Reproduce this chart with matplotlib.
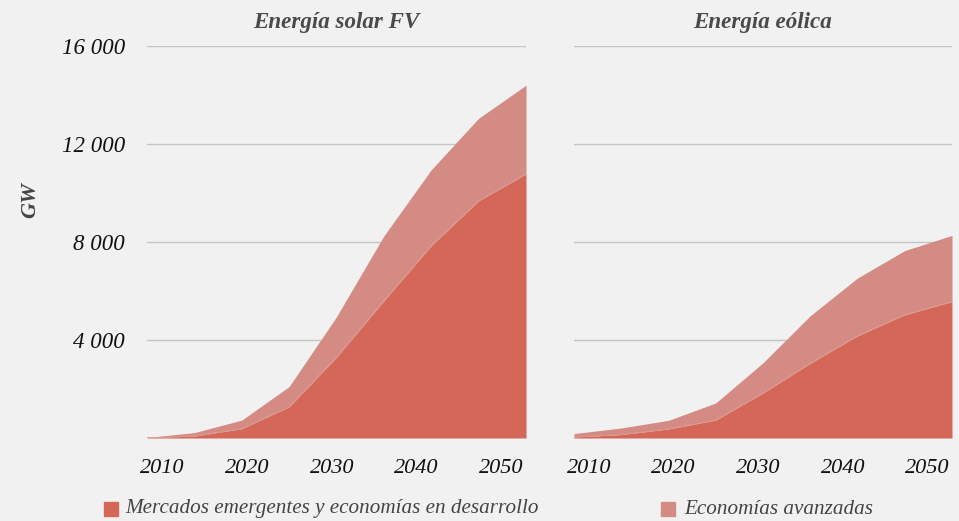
import matplotlib.pyplot as plt
from matplotlib.patches import Rectangle
import numpy as np

# datos (GW)
years = [2010, 2015, 2020, 2025, 2030, 2035, 2040, 2045, 2050]

solar_emergentes = [10, 80, 380, 1270, 3300, 5600, 7850, 9680, 10780]
solar_total = [20, 220, 730, 2100, 4950, 8250, 10950, 13050, 14400]

eolica_emergentes = [40, 140, 370, 730, 1840, 3050, 4170, 5030, 5570]
eolica_total = [180, 410, 720, 1430, 3070, 4990, 6530, 7650, 8270]

titles = ["Energía solar FV", "Energía eólica"]
year_labels = ["2010", "2020", "2030", "2040", "2050"]
y_ticks = [4000, 8000, 12000, 16000]
y_labels = ["4 000", "8 000", "12 000", "16 000"]
legend_labels = ["Mercados emergentes y economías en desarrollo", "Economías avanzadas"]

c_em = "#d46758"
c_av = "#d38b83"
bg = "#f1f1f1"
grid_c = "#c4c4c4"
text_c = "#444444"

plt.rcParams["font.family"] = ["Liberation Serif", "DejaVu Serif"]
plt.rcParams["font.style"] = "italic"

fig = plt.figure(figsize=(9.59, 5.21), dpi=100, facecolor=bg)
W, H = 959, 521
ax1 = fig.add_axes([147 / W, 1 - 438 / H, 379 / W, 392 / H])
ax2 = fig.add_axes([574 / W, 1 - 438 / H, 378 / W, 392 / H])

series = [(solar_emergentes, solar_total), (eolica_emergentes, eolica_total)]

for ax, title, (em, tot) in zip([ax1, ax2], titles, series):
    ax.set_facecolor(bg)
    x = np.array(years)
    em = np.array(em)
    tot = np.array(tot)
    for yv in y_ticks:
        ax.axhline(yv, color=grid_c, lw=1.0, zorder=0)
    ax.fill_between(x, 0, em, color=c_em, lw=0, zorder=2)
    ax.fill_between(x, em, tot, color=c_av, lw=0, zorder=2)
    ax.plot(x, em, color="#e09a90", lw=0.6, zorder=3)
    ax.axhline(0, color="#c8c8c8", lw=1.2, zorder=1)
    ax.set_xlim(2010, 2050)
    ax.set_ylim(0, 16000)
    for s in ax.spines.values():
        s.set_visible(False)
    ax.set_xticks(np.linspace(2011.6, 2047.4, 5))
    ax.set_xticklabels(year_labels, fontsize=16, color="#111111")
    ax.tick_params(axis="x", length=0, pad=15)
    ax.set_title(title, fontsize=16.6, color="#4a4a4a", pad=13, fontweight="bold")

ax1.set_yticks(y_ticks)
ax1.set_yticklabels(y_labels, fontsize=16.5, color="#111111")
ax1.tick_params(axis="y", length=0, pad=16)
ax2.set_yticks([])

fig.text(30 / W, 1 - 200 / H, "GW", fontsize=16, color=text_c, rotation=90,
         ha="center", va="center", fontweight="bold")

# leyenda
for (px, tx), lab, col in zip([(104, 125), (661, 684)], legend_labels, [c_em, c_av]):
    fig.patches.append(Rectangle((px / W, 1 - 516 / H), 14 / W, 14 / H,
                                 transform=fig.transFigure, color=col))
    fig.text(tx / W, 1 - 509 / H, lab, fontsize=15.2, color=text_c, va="center", ha="left")

plt.savefig("out.png", dpi=100, facecolor=bg)
